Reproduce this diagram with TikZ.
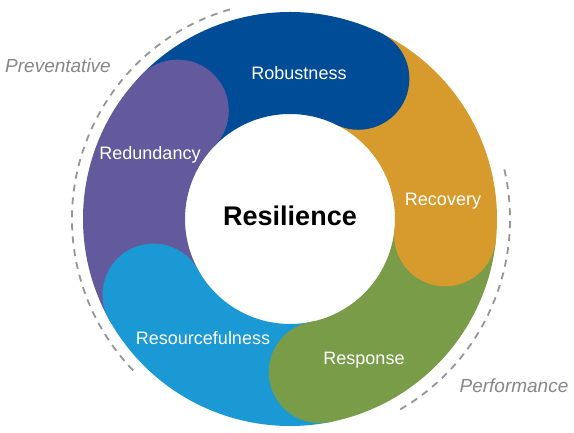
\documentclass[tikz,border=0pt]{standalone}
\usepackage{fontspec}
\setmainfont{Liberation Sans}

\definecolor{morado}{RGB}{99,90,157}
\definecolor{azul}{RGB}{0,76,151}
\definecolor{naranja}{RGB}{214,154,45}
\definecolor{verde}{RGB}{120,156,72}
\definecolor{celeste}{RGB}{26,153,213}
\definecolor{gris}{RGB}{150,150,150}

\tikzset{
  etiqueta/.style={text=white, font=\fontsize{18}{18}\selectfont},
  nota/.style={text=gris!90!black, font=\itshape\fontsize{19}{19}\selectfont},
  borde/.style={draw=gris, line width=1.8pt, dash pattern=on 7pt off 6pt},
}

\begin{document}
\begin{tikzpicture}[x=1pt,y=1pt]
            \useasboundingbox (0,0) rectangle (574,433);

            % Centro y radios
            \coordinate (c) at (290,214);
            \pgfmathsetmacro{\rext}{207}
            \pgfmathsetmacro{\rint}{105}
            \pgfmathsetmacro{\rmed}{(\rext+\rint)/2}
            \pgfmathsetmacro{\ancho}{(\rext-\rint)/2}

            % Cuerpos de los segmentos
            \foreach \ini/\fin/\col in {209/136/morado, 136/64/azul, 64/-6/naranja, -6/-79/verde, -79/-151/celeste} {
              \fill[\col] ([shift={(\ini:\rext)}]c) arc[start angle=\ini, end angle=\fin, radius=\rext]
                -- ([shift={(\fin:\rint)}]c) arc[start angle=\fin, end angle=\ini, radius=\rint] -- cycle;
            }

            % Extremos redondeados
            \foreach \ang/\col in {136/morado, 64/azul, -6/naranja, -79/verde, -151/celeste}
              \fill[\col] ([shift={(\ang:\rmed)}]c) circle[radius=\ancho];

            % Etiquetas
            \node[etiqueta] (robustez) at (299,360) {Robustness};
            \node[etiqueta] (redundancia) at (150,278) {Redundancy};
            \node[etiqueta] (recuperacion) at (443,232) {Recovery};
            \node[etiqueta] (respuesta) at (364,73) {Response};
            \node[etiqueta] (recursos) at (203,95) {Resourcefulness};
            \node[font=\bfseries\fontsize{27}{27}\selectfont] (resiliencia) at (290,217) {Resilience};

            % Arcos discontinuos
            \draw[borde] ([shift={(106:218)}]c) arc[start angle=106, end angle=224, radius=218];
            \draw[borde] ([shift={(13:220)}]c) arc[start angle=13, end angle=-60, radius=220];
            \node[nota] (preventivo) at (58,367) {Preventative};
            \node[nota] (rendimiento) at (514,47) {Performance};
        \end{tikzpicture}
\end{document}
